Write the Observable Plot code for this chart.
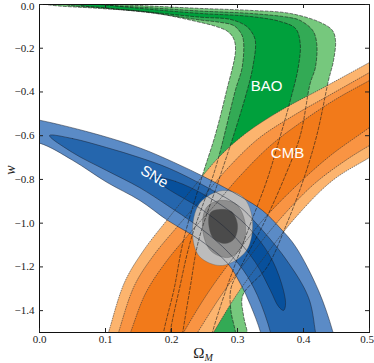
<!DOCTYPE html>
<html><head><meta charset="utf-8">
<script src="https://cdn.jsdelivr.net/npm/d3@7"></script>
<script src="https://cdn.jsdelivr.net/npm/@observablehq/plot@0.6"></script>
<style>body{margin:0;background:#fff}svg{display:block}</style>
</head><body><div id="chart"></div>
<script>
// ---- tick values ----
const xTicks = [0, 0.1, 0.2, 0.3, 0.4, 0.5];
const yTicks = [0, -0.2, -0.4, -0.6, -0.8, -1.0, -1.2, -1.4];

// ---- BAO contours (closed loops of [Omega_M, w]) ----
const baoOuter = [[-0.03,0.03],[0.092,0.004],[0.168,-0.007],[0.244,-0.018],[0.32,-0.027],[0.38,-0.041],[0.4258,-0.0823],[0.4439,-0.119],[0.4485,-0.165],[0.4455,-0.256],[0.4379,-0.347],[0.42,-0.6],[0.40,-0.8],[0.375,-1.0],[0.345,-1.2],[0.308,-1.33],[0.309,-1.42],[0.315,-1.5],[0.32,-1.6],
  [0.184,-1.6],[0.188,-1.5],[0.204,-1.3],[0.218,-1.08],[0.247,-0.78],[0.266,-0.6],[0.283,-0.4],[0.297,-0.21],[0.294,-0.155],[0.285,-0.123],[0.267,-0.1],[0.244,-0.082],[0.168,-0.036],[0.092,-0.018],[0.01,0.0]];
const baoMid = [[0.02,0.03],[0.092,0.0],[0.168,-0.015],[0.244,-0.03],[0.32,-0.041],[0.38,-0.06],[0.395,-0.073],[0.414,-0.119],[0.42,-0.178],[0.418,-0.288],[0.41,-0.362],[0.395,-0.6],[0.37,-0.8],[0.34,-1.0],[0.305,-1.2],[0.29,-1.3],[0.29,-1.4],[0.297,-1.5],[0.30,-1.6],
  [0.195,-1.6],[0.198,-1.5],[0.212,-1.3],[0.229,-1.08],[0.267,-0.745],[0.297,-0.39],[0.307,-0.288],[0.309,-0.165],[0.305,-0.13],[0.294,-0.096],[0.27,-0.08],[0.244,-0.071],[0.168,-0.038],[0.092,-0.015],[0.04,0.0]];
const baoInner = [[0.05,0.03],[0.1,0.0],[0.168,-0.022],[0.244,-0.041],[0.32,-0.055],[0.365,-0.078],[0.388,-0.11],[0.395,-0.178],[0.392,-0.288],[0.38,-0.439],[0.365,-0.6],[0.345,-0.8],[0.32,-1.0],[0.295,-1.2],[0.282,-1.31],[0.262,-1.5],[0.255,-1.6],
  [0.212,-1.6],[0.217,-1.5],[0.228,-1.3],[0.241,-1.08],[0.272,-0.8],[0.295,-0.59],[0.314,-0.4],[0.323,-0.288],[0.327,-0.165],[0.32,-0.12],[0.312,-0.096],[0.289,-0.068],[0.244,-0.058],[0.168,-0.035],[0.1,-0.015],[0.06,0.0]];

// ---- CMB contours: upper-left edge and lower-right edge, both from bottom to top-right ----
const cmbOuterUpper = [[0.089,-1.65],[0.1045,-1.5],[0.1288,-1.271],[0.1576,-1.125],[0.1939,-0.983],[0.2318,-0.841],[0.2712,-0.70],[0.3121,-0.590],[0.3652,-0.485],[0.4333,-0.375],[0.5,-0.265],[0.55,-0.183]];
const cmbOuterLower = [[0.233,-1.65],[0.2636,-1.5],[0.3,-1.3216],[0.3424,-1.1479],[0.3879,-0.9741],[0.4439,-0.8049],[0.5,-0.6997],[0.55,-0.606]];
const cmbMidUpper = [[0.105,-1.65],[0.1197,-1.5],[0.1439,-1.285],[0.1727,-1.148],[0.2091,-1.015],[0.2470,-0.883],[0.2864,-0.745],[0.3318,-0.613],[0.3848,-0.508],[0.4409,-0.412],[0.5,-0.311],[0.55,-0.225]];
const cmbMidLower = [[0.208,-1.65],[0.2394,-1.5],[0.2773,-1.3216],[0.3197,-1.1479],[0.3652,-0.9786],[0.4152,-0.8232],[0.4636,-0.7134],[0.5,-0.6448],[0.55,-0.56]];
const cmbInnerUpper = [[0.12,-1.65],[0.1379,-1.5],[0.1606,-1.3216],[0.1909,-1.18],[0.2273,-1.047],[0.2652,-0.919],[0.3045,-0.782],[0.35,-0.645],[0.4,-0.5305],[0.4485,-0.434],[0.5,-0.3476],[0.55,-0.265]];
const cmbInnerLower = [[0.19,-1.65],[0.2182,-1.5],[0.2545,-1.3216],[0.2939,-1.157],[0.3379,-0.9878],[0.3879,-0.8323],[0.4409,-0.6905],[0.5,-0.5625],[0.55,-0.45]];

// ---- SNe contours: upper edge and lower edge, both left to right ----
const snOuterUpper = [[-0.05,-0.505],[0,-0.529],[0.092,-0.598],[0.153,-0.657],[0.203,-0.721],[0.2545,-0.7957],[0.3045,-0.878],[0.3379,-0.942],[0.3652,-1.0244],[0.3879,-1.1067],[0.4227,-1.3079],[0.4439,-1.4908],[0.452,-1.6]];
const snOuterLower = [[-0.05,-0.615],[0,-0.634],[0.05,-0.712],[0.102,-0.813],[0.152,-0.896],[0.194,-0.987],[0.244,-1.079],[0.285,-1.184],[0.305,-1.28],[0.32,-1.377],[0.335,-1.5],[0.342,-1.6]];
const snMidUpper = [[0.0152,-0.599],[0.05,-0.613],[0.1015,-0.654],[0.1515,-0.70],[0.197,-0.75],[0.2545,-0.837],[0.3045,-0.928],[0.3273,-0.997],[0.3727,-1.162],[0.4076,-1.34],[0.4182,-1.5],[0.423,-1.6]];
const snMidLower = [[0.05,-0.677],[0.1015,-0.759],[0.1515,-0.837],[0.1939,-0.919],[0.2364,-1.006],[0.2773,-1.107],[0.3091,-1.216],[0.3303,-1.331],[0.35,-1.5],[0.356,-1.6]];
const snInnerUpper = [[0.1652,-0.782],[0.2061,-0.809],[0.2515,-0.873],[0.297,-0.965],[0.3273,-1.056],[0.353,-1.171],[0.3697,-1.308],[0.3727,-1.376],[0.3697,-1.399]];
const snInnerLower = [[0.1758,-0.805],[0.1985,-0.851],[0.2439,-0.933],[0.2894,-1.043],[0.3273,-1.18],[0.35,-1.308],[0.3621,-1.381]];

// ---- combined contours (closed loops) ----
const combOuter = [[0.2773,-0.8506],[0.3091,-0.8826],[0.3227,-0.9878],[0.3136,-1.125],[0.2773,-1.1936],[0.2424,-1.1524],[0.2318,-1.0427],[0.2424,-0.91]];
const combMid = [[0.2727,-0.8963],[0.2985,-0.9146],[0.3121,-1.0106],[0.3061,-1.1113],[0.2864,-1.157],[0.2591,-1.125],[0.247,-1.0244],[0.253,-0.9283]];
const combInner = [[0.2712,-0.9375],[0.2909,-0.9466],[0.3,-1.0061],[0.2955,-1.0701],[0.2818,-1.093],[0.2636,-1.0701],[0.2561,-0.9969],[0.2591,-0.9512]];

// ---- labels ----
const labelNames = ["BAO", "CMB"];
const labelOm = [0.3439, 0.3758];
const labelW = [-0.375, -0.681];
const snLabel = {name: "SNe", om: 0.1742, w: -0.787};

const band = (upper, lower) => upper.concat(lower.slice().reverse());
const pts = a => a.map(([om, w]) => ({om, w}));

const bao = [[baoOuter, "#76c87d"], [baoMid, "#33aa55"], [baoInner, "#00a03c"]];
const cmb = [[band(cmbOuterUpper, cmbOuterLower), "#fcb46e"], [band(cmbMidUpper, cmbMidLower), "#f99443"], [band(cmbInnerUpper, cmbInnerLower), "#f27a1a"]];
const sne = [[band(snOuterUpper, snOuterLower), "#5b8bc6"], [band(snMidUpper, snMidLower), "#2566ad"], [band(snInnerUpper, snInnerLower), "#07509c"]];
const comb = [[combOuter, "#bcbcbc"], [combMid, "#8e8e8e"], [combInner, "#4b4b4b"]];

const fillMark = ([p, c]) => Plot.line(pts(p), {x: "om", y: "w", curve: "catmull-rom-closed", fill: c, stroke: "none", clip: true});
const edgeMark = (dash, col, sw) => ([p]) => Plot.line(pts(p), {x: "om", y: "w", curve: "catmull-rom-closed", fill: "none", stroke: col, strokeWidth: sw, strokeDasharray: dash, strokeOpacity: 0.85, clip: true});

const W = 374, H = 363, mL = 39, mR = 5, mT = 4, mB = 31;
const iH = H - mT - mB, iW = W - mL - mR;
const fmt = d => (d < 0 ? "\u2212" : "") + Math.abs(d).toFixed(1);
const xLast = xTicks[xTicks.length - 1];
const yFirst = yTicks[0];

const chart = Plot.plot({
  width: W, height: H,
  marginLeft: mL, marginRight: mR, marginTop: mT, marginBottom: mB,
  x: {domain: [0, 0.5]},
  y: {domain: [-1.5, 0]},
  style: {fontFamily: "Liberation Serif", fontSize: "11px", background: "white", color: "#222"},
  marks: [
    ...bao.map(fillMark),
    ...cmb.map(fillMark),
    ...sne.map(fillMark),
    ...comb.map(fillMark),
    ...bao.map(edgeMark("3,2", "#1a1a1a", 0.7)),
    ...cmb.map(edgeMark("0.8,1.6", "#333", 0.7)),
    ...sne.map(edgeMark(null, "#1a2232", 0.6)),
    ...comb.map(edgeMark(null, "#555", 0.4)),
    Plot.text(labelNames, {x: (d, i) => labelOm[i], y: (d, i) => labelW[i], text: d => d, fill: "white", fontFamily: "Liberation Sans", fontSize: 15}),
    Plot.text([snLabel], {x: "om", y: "w", text: "name", fill: "white", fontFamily: "Liberation Sans", fontSize: 15, rotate: 31}),
    Plot.frame({stroke: "#111", strokeWidth: 1}),
    Plot.tickX(xTicks, {x: d => d, insetTop: iH - 4, stroke: "#222"}),
    Plot.tickX(xTicks, {x: d => d, insetBottom: iH - 4, stroke: "#222"}),
    Plot.tickY(yTicks, {y: d => d, insetRight: iW - 4, stroke: "#222"}),
    Plot.tickY(yTicks, {y: d => d, insetLeft: iW - 4, stroke: "#222"}),
    Plot.axisX({ticks: xTicks.filter(d => d !== xLast), tickSize: 0, tickPadding: 3, tickFormat: fmt, label: null}),
    Plot.axisX({ticks: [xLast], tickSize: 0, tickPadding: 3, tickFormat: fmt, label: null, dx: -2.5}),
    Plot.axisY({ticks: yTicks.filter(d => d !== yFirst), tickSize: 0, tickPadding: 5, tickFormat: fmt, label: null}),
    Plot.axisY({ticks: [yFirst], tickSize: 0, tickPadding: 5, tickFormat: fmt, label: null, dy: 2})
  ]
});
document.getElementById("chart").appendChild(chart);
const svg = d3.select(chart);
svg.append("text")
  .attr("transform", "translate(10,170) rotate(-90)")
  .attr("text-anchor", "middle").attr("dominant-baseline", "central")
  .attr("font-family", "Liberation Serif").attr("font-style", "italic").attr("font-size", 14)
  .attr("fill", "#222").text("w");
const xt = svg.append("text").attr("x", 203).attr("y", 358).attr("text-anchor", "middle")
  .attr("font-family", "Liberation Serif").attr("fill", "#222");
xt.append("tspan").attr("font-size", 15).text("\u03A9");
xt.append("tspan").attr("font-size", 10).attr("font-style", "italic").attr("dy", 3).text("M");
</script></body></html>
